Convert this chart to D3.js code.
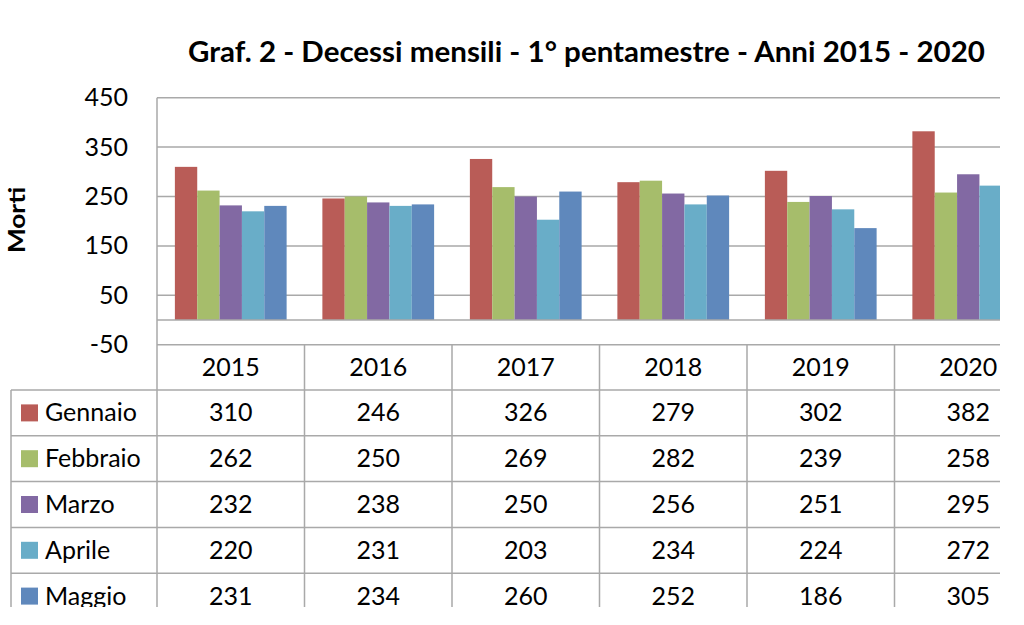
<!DOCTYPE html>
<html>
<head>
<meta charset="utf-8">
<script src="https://cdn.jsdelivr.net/npm/d3@7"></script>
<style>
  html, body { margin: 0; padding: 0; background: #fff; }
  svg { display: block; }
  text { font-family: Lato, "Liberation Sans", sans-serif; fill: #000; }
</style>
</head>
<body>
<svg id="chart" width="1024" height="625"></svg>
<script>
// ---- data ----
const years = ["2015", "2016", "2017", "2018", "2019", "2020"];
const months = ["Gennaio", "Febbraio", "Marzo", "Aprile", "Maggio"];
const gennaio  = [310, 246, 326, 279, 302, 382];
const febbraio = [262, 250, 269, 282, 239, 258];
const marzo    = [232, 238, 250, 256, 251, 295];
const aprile   = [220, 231, 203, 234, 224, 272];
const maggio   = [231, 234, 260, 252, 186, 305];
const monthColors = ["#B95C57", "#A6BD6B", "#8269A3", "#69ADC8", "#5F88BC"];
const yTicks = [-50, 50, 150, 250, 350, 450];
const titleText = "Graf. 2 - Decessi mensili - 1\u00B0 pentamestre - Anni 2015 - 2020";
const yTitle = "Morti";

const series = [gennaio, febbraio, marzo, aprile, maggio];

// ---- layout ----
const svg = d3.select("#chart");
const plotLeft = 157, colW = 147.5;
const clipRight = 1000, clipBottom = 607;
const gridColor = "#A9A9A9";

svg.append("defs").append("clipPath").attr("id", "clip")
  .append("rect").attr("x", 0).attr("y", 0).attr("width", clipRight).attr("height", clipBottom);

const root = svg.append("g").attr("clip-path", "url(#clip)");

const x = d3.scaleBand().domain(years).range([plotLeft, plotLeft + colW * years.length]).padding(0);
const xm = d3.scaleBand().domain(months).range([0, x.bandwidth()]).paddingInner(0).paddingOuter(0.8);
const y = d3.scaleLinear().domain([-50, 450]).range([344.7, 97.7]);

// title
svg.append("text")
  .attr("x", 188).attr("y", 62)
  .attr("font-size", 29).attr("font-weight", "bold")
  .attr("textLength", 797).attr("lengthAdjust", "spacingAndGlyphs")
  .text(titleText);

// y title
svg.append("text")
  .attr("transform", "translate(25,220) rotate(-90)")
  .attr("text-anchor", "middle")
  .attr("font-size", 23).attr("font-weight", "bold")
  .attr("textLength", 66).attr("lengthAdjust", "spacingAndGlyphs")
  .text(yTitle);

// gridlines
root.append("g").selectAll("line").data(yTicks).join("line")
  .attr("x1", plotLeft).attr("x2", clipRight)
  .attr("y1", d => y(d)).attr("y2", d => y(d))
  .attr("stroke", gridColor).attr("stroke-width", 1.5);

// y axis via d3 axis (labels only)
const yAxis = d3.axisLeft(y).tickValues(yTicks).tickSize(0).tickPadding(29).tickFormat(d => String(d));
const ya = svg.append("g").attr("transform", `translate(${plotLeft},0)`).call(yAxis);
ya.select(".domain").remove();
ya.selectAll("text").attr("font-size", 25).attr("font-family", "Lato, 'Liberation Sans', sans-serif").attr("fill", "#000");

// bars
const groups = root.append("g").selectAll("g").data(years).join("g")
  .attr("transform", d => `translate(${x(d)},0)`);
groups.selectAll("rect").data((yr, i) => months.map((m, k) => ({ m, k, v: series[k][i] })))
  .join("rect")
  .attr("x", d => xm(d.m))
  .attr("width", xm.bandwidth())
  .attr("y", d => y(d.v))
  .attr("height", d => y(0) - y(d.v))
  .attr("fill", d => monthColors[d.k]);

// axis lines
root.append("line").attr("x1", plotLeft).attr("x2", clipRight)
  .attr("y1", y(0)).attr("y2", y(0)).attr("stroke", gridColor).attr("stroke-width", 1.5);
root.append("line").attr("x1", plotLeft).attr("x2", plotLeft)
  .attr("y1", y(450)).attr("y2", clipBottom).attr("stroke", gridColor).attr("stroke-width", 1.5);

// ---- data table ----
const tableTop = y(-50), headerBottom = 390, rowH = 45.8, tableLeft = 11;
const rowTop = i => headerBottom + i * rowH;
const tbl = root.append("g");

// horizontal lines
tbl.selectAll("line.h").data(months.map((m, i) => i)).join("line").attr("class", "h")
  .attr("x1", tableLeft).attr("x2", clipRight)
  .attr("y1", d => rowTop(d)).attr("y2", d => rowTop(d))
  .attr("stroke", gridColor).attr("stroke-width", 1.5);
// vertical lines between year columns
tbl.selectAll("line.v").data(years.slice(1)).join("line").attr("class", "v")
  .attr("x1", d => x(d)).attr("x2", d => x(d))
  .attr("y1", tableTop).attr("y2", clipBottom)
  .attr("stroke", gridColor).attr("stroke-width", 1.5);
// left border
tbl.append("line").attr("x1", tableLeft).attr("x2", tableLeft)
  .attr("y1", headerBottom).attr("y2", clipBottom)
  .attr("stroke", gridColor).attr("stroke-width", 1.5);

// header
tbl.selectAll("text.hd").data(years).join("text").attr("class", "hd")
  .attr("x", d => x(d) + x.bandwidth() / 2)
  .attr("y", (tableTop + headerBottom) / 2 + 8.5)
  .attr("text-anchor", "middle").attr("font-size", 25)
  .text(d => d);

// rows
months.forEach((m, k) => {
  const cy = rowTop(k) + rowH / 2;
  tbl.append("rect").attr("x", 21).attr("y", cy - 8.5).attr("width", 17).attr("height", 17)
    .attr("fill", monthColors[k]);
  tbl.append("text").attr("x", 45).attr("y", cy + 8.5).attr("font-size", 25).text(m);
  tbl.selectAll(null).data(series[k]).join("text")
    .attr("x", (d, i) => x(years[i]) + x.bandwidth() / 2)
    .attr("y", cy + 8.5)
    .attr("text-anchor", "middle").attr("font-size", 25)
    .text(d => d);
});
</script>
</body>
</html>
